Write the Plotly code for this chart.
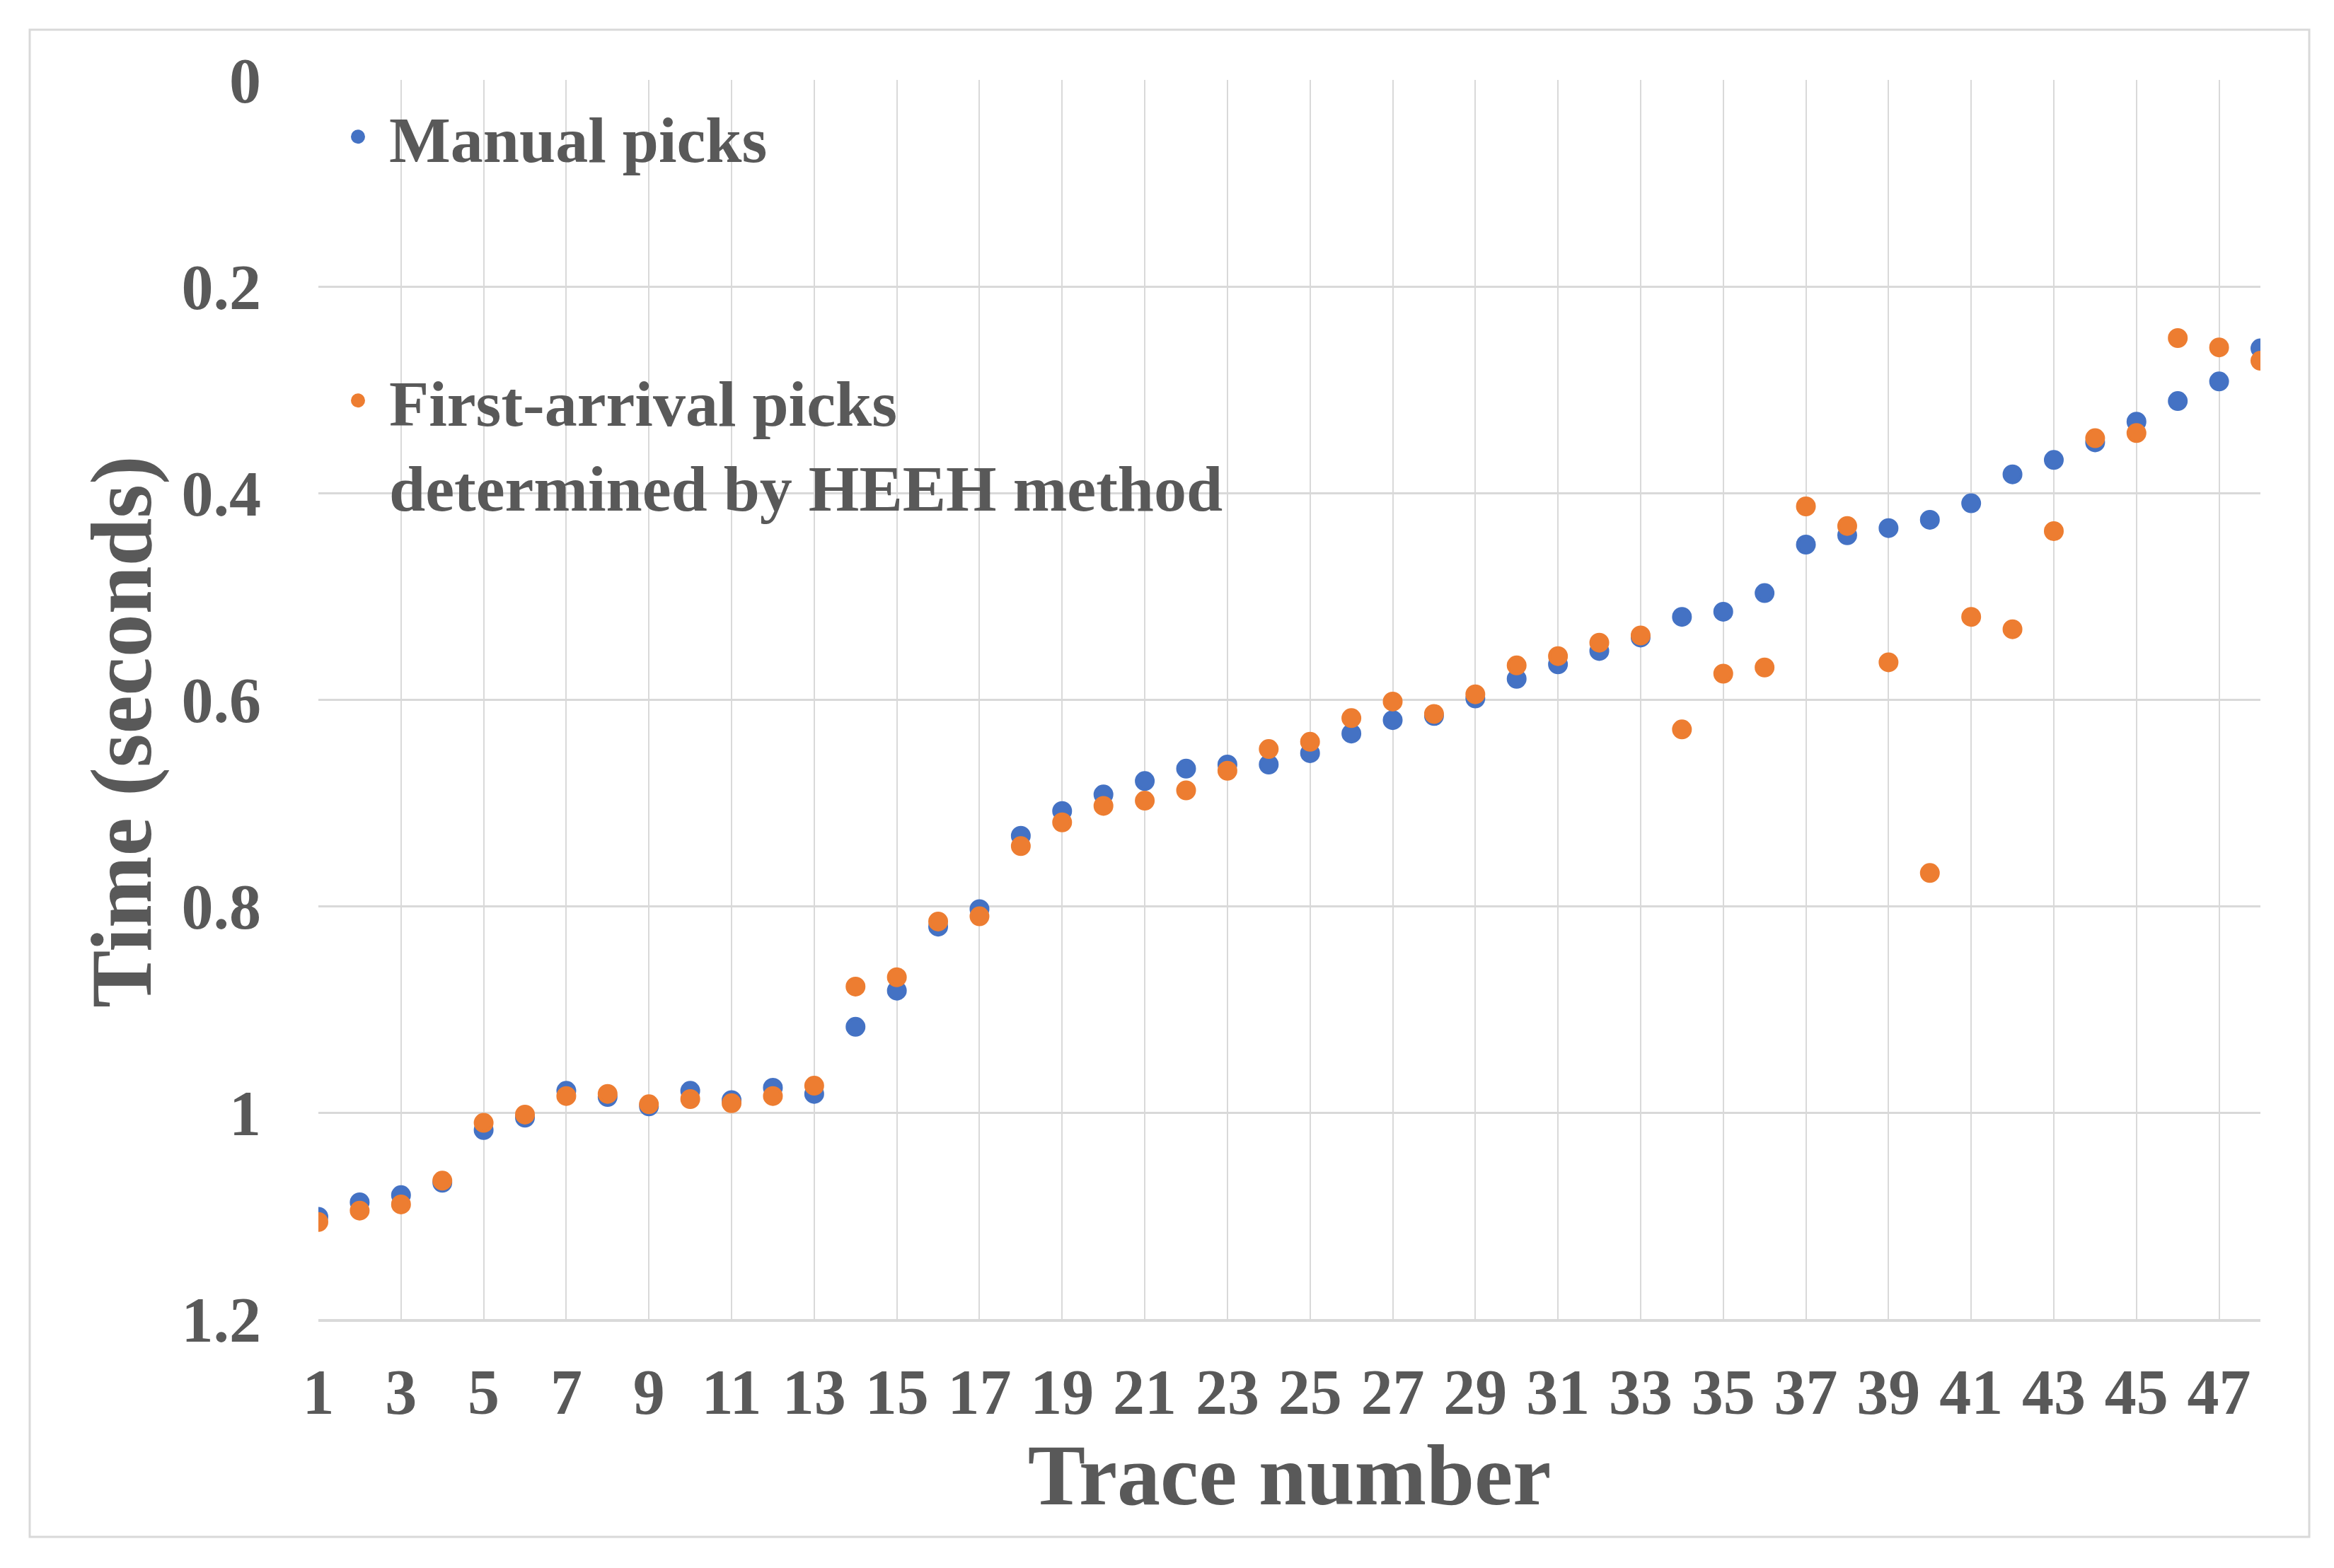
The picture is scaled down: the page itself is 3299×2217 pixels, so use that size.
import plotly.graph_objects as go

trace_numbers = list(range(1, 49))

manual_picks = [1.101, 1.087, 1.080, 1.068, 1.017, 1.005, 0.979, 0.985, 0.994, 0.979,
                0.988, 0.976, 0.982, 0.917, 0.882, 0.820, 0.803, 0.732, 0.708, 0.692,
                0.679, 0.667, 0.663, 0.663, 0.652, 0.633, 0.620, 0.616, 0.599, 0.580,
                0.566, 0.553, 0.540, 0.520, 0.515, 0.497, 0.450, 0.441, 0.434, 0.426,
                0.410, 0.382, 0.368, 0.351, 0.331, 0.311, 0.292, 0.260]

heeh_picks = [1.106, 1.095, 1.089, 1.066, 1.010, 1.002, 0.984, 0.982, 0.992, 0.987,
              0.991, 0.984, 0.974, 0.878, 0.869, 0.815, 0.810, 0.742, 0.719, 0.703,
              0.698, 0.688, 0.669, 0.648, 0.641, 0.618, 0.602, 0.614, 0.595, 0.567,
              0.558, 0.545, 0.538, 0.629, 0.575, 0.569, 0.413, 0.432, 0.564, 0.768,
              0.520, 0.532, 0.437, 0.347, 0.342, 0.250, 0.259, 0.272]

series_names = ["Manual picks", "First-arrival picks<br>determined by HEEH method"]
y_ticks = [0, 0.2, 0.4, 0.6, 0.8, 1, 1.2]
x_title = "Trace number"
y_title = "Time (seconds)"

BLUE = "#4472C4"
ORANGE = "#ED7D31"
TEXT = "#595959"
GRID = "#D9D9D9"
FONT = "Liberation Serif"

# page body has an 8px default margin, so the figure is offset by 8px
OFF = 8
W, H = 3299 - OFF, 2217 - OFF
L, T = 450 - OFF, 113 - OFF
R, B = W - (3195 - OFF), H - (1865 - OFF)
pw, ph = W - L - R, H - T - B


def px_x(page_x):
    return (page_x - OFF - L) / pw


def px_y(page_y):
    return 1 - (page_y - OFF - T) / ph


fig = go.Figure()
fig.add_trace(go.Scatter(
    x=trace_numbers, y=manual_picks, mode="markers", name=series_names[0],
    marker=dict(color=BLUE, size=24, line=dict(color=BLUE, width=4)), legend="legend"))
fig.add_trace(go.Scatter(
    x=trace_numbers, y=heeh_picks, mode="markers", name=series_names[1],
    marker=dict(color=ORANGE, size=24, line=dict(color=ORANGE, width=4)), legend="legend2"))

legend_common = dict(
    font=dict(family=FONT, size=92, color=TEXT, weight="bold"),
    bgcolor="rgba(0,0,0,0)", borderwidth=0, xanchor="left", yanchor="top",
    valign="top", itemsizing="trace", itemwidth=78)

fig.update_layout(
    width=W, height=H,
    margin=dict(l=L, r=R, t=T, b=B),
    paper_bgcolor="white", plot_bgcolor="white",
    font=dict(family=FONT, color=TEXT),
    showlegend=True,
    legend=dict(x=px_x(462), y=px_y(127), **legend_common),
    legend2=dict(x=px_x(462), y=px_y(500), **legend_common),
    xaxis=dict(
        range=[1, 48], tick0=1, dtick=2, showgrid=True, gridcolor=GRID, gridwidth=2,
        zeroline=False, showline=True, linecolor=GRID, linewidth=4,
        ticks="", ticklabelstandoff=22,
        tickfont=dict(family=FONT, size=90, color=TEXT, weight="bold"),
        title=dict(text=x_title, standoff=18,
                   font=dict(family=FONT, size=122, color=TEXT, weight="bold")),
    ),
    yaxis=dict(
        range=[1.2, 0], tickvals=y_ticks, showgrid=True, gridcolor=GRID, gridwidth=3,
        zeroline=False, showline=False, ticks="", ticklabelstandoff=80,
        tickfont=dict(family=FONT, size=90, color=TEXT, weight="bold"),
    ),
    annotations=[dict(
        text=y_title, textangle=-90, xref="paper", yref="paper",
        x=px_x(172), y=px_y(1035), xanchor="center", yanchor="middle", showarrow=False,
        font=dict(family=FONT, size=122, color=TEXT, weight="bold"))],
    shapes=[dict(type="rect", xref="paper", yref="paper",
                 x0=px_x(42), x1=px_x(3264), y0=px_y(2173), y1=px_y(42),
                 line=dict(color=GRID, width=3), fillcolor="rgba(0,0,0,0)", layer="below")],
)

fig.write_html("out.html")
